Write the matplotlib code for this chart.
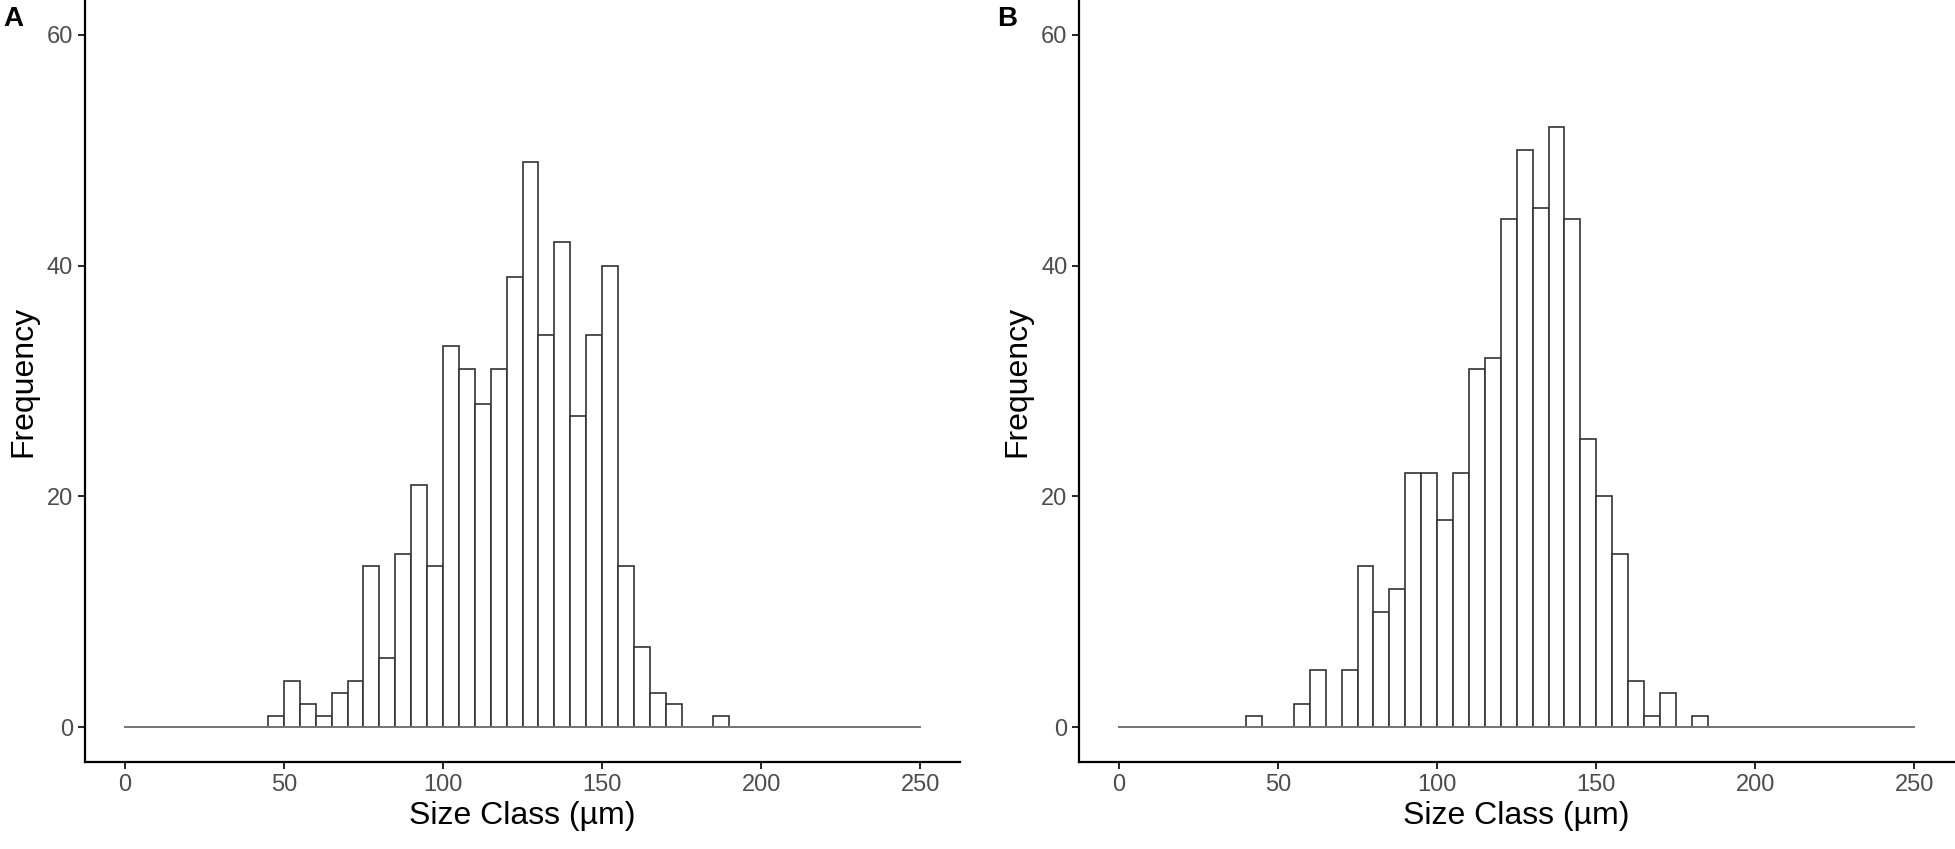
import numpy as np
import matplotlib.pyplot as plt

plt.rcParams['font.family'] = ['Liberation Sans', 'DejaVu Sans']

# 5 um size classes from 0 to 250
bordes = np.arange(0, 255, 5)

# Frecuencias panel A (clase inicial 45 um)
inicioA = 45
frecA = [1, 4, 2, 1, 3, 4, 14, 6, 15, 21, 14, 33, 31, 28, 31, 39, 49, 34, 42, 27,
         34, 40, 14, 7, 3, 2, 0, 0, 1]

# Frecuencias panel B (clase inicial 40 um)
inicioB = 40
frecB = [1, 0, 0, 2, 5, 0, 5, 14, 10, 12, 22, 22, 18, 22, 31, 32, 44, 50, 45, 52,
         44, 25, 20, 15, 4, 1, 3, 0, 1]

etiquetas = ["A", "B"]
ticksX = [0, 50, 100, 150, 200, 250]
ticksY = [0, 20, 40, 60]


def completar(inicio, frec):
    conteo = np.zeros(len(bordes) - 1)
    k = inicio // 5
    conteo[k:k + len(frec)] = frec
    return conteo


fig = plt.figure(figsize=(19.55, 8.49), dpi=100)
posiciones = [[0.0435, 0.1025, 0.4476, 0.8975], [0.552, 0.1025, 0.4476, 0.8975]]
datos = [completar(inicioA, frecA), completar(inicioB, frecB)]

for i in range(2):
    ax = fig.add_axes(posiciones[i])
    ax.bar(bordes[:-1], datos[i], width=5, align="edge", facecolor="white",
           edgecolor="#333333", linewidth=1.2)
    # linea base gris de las clases vacias
    ax.plot([bordes[0], bordes[-1]], [0, 0], color="#777777", linewidth=1.4, zorder=3)
    ax.set_xlim(-12.5, 262.5)
    ax.set_ylim(-3, 63)
    ax.set_xticks(ticksX)
    ax.set_yticks(ticksY)
    ax.spines["top"].set_visible(False)
    ax.spines["right"].set_visible(False)
    ax.spines["left"].set_linewidth(1.6)
    ax.spines["bottom"].set_linewidth(1.6)
    ax.tick_params(labelsize=17, colors="#4d4d4d", length=5, width=1.2)
    ax.tick_params(axis="both", which="both", color="black")
    ax.set_xlabel("Size Class (µm)", fontsize=23, labelpad=4)
    ax.set_ylabel("Frequency", fontsize=23, labelpad=6)
    fig.text(posiciones[i][0] - 0.042, 0.978, etiquetas[i], fontsize=20,
             fontweight="bold", ha="left", va="center")

plt.savefig("out.png", dpi=100)
